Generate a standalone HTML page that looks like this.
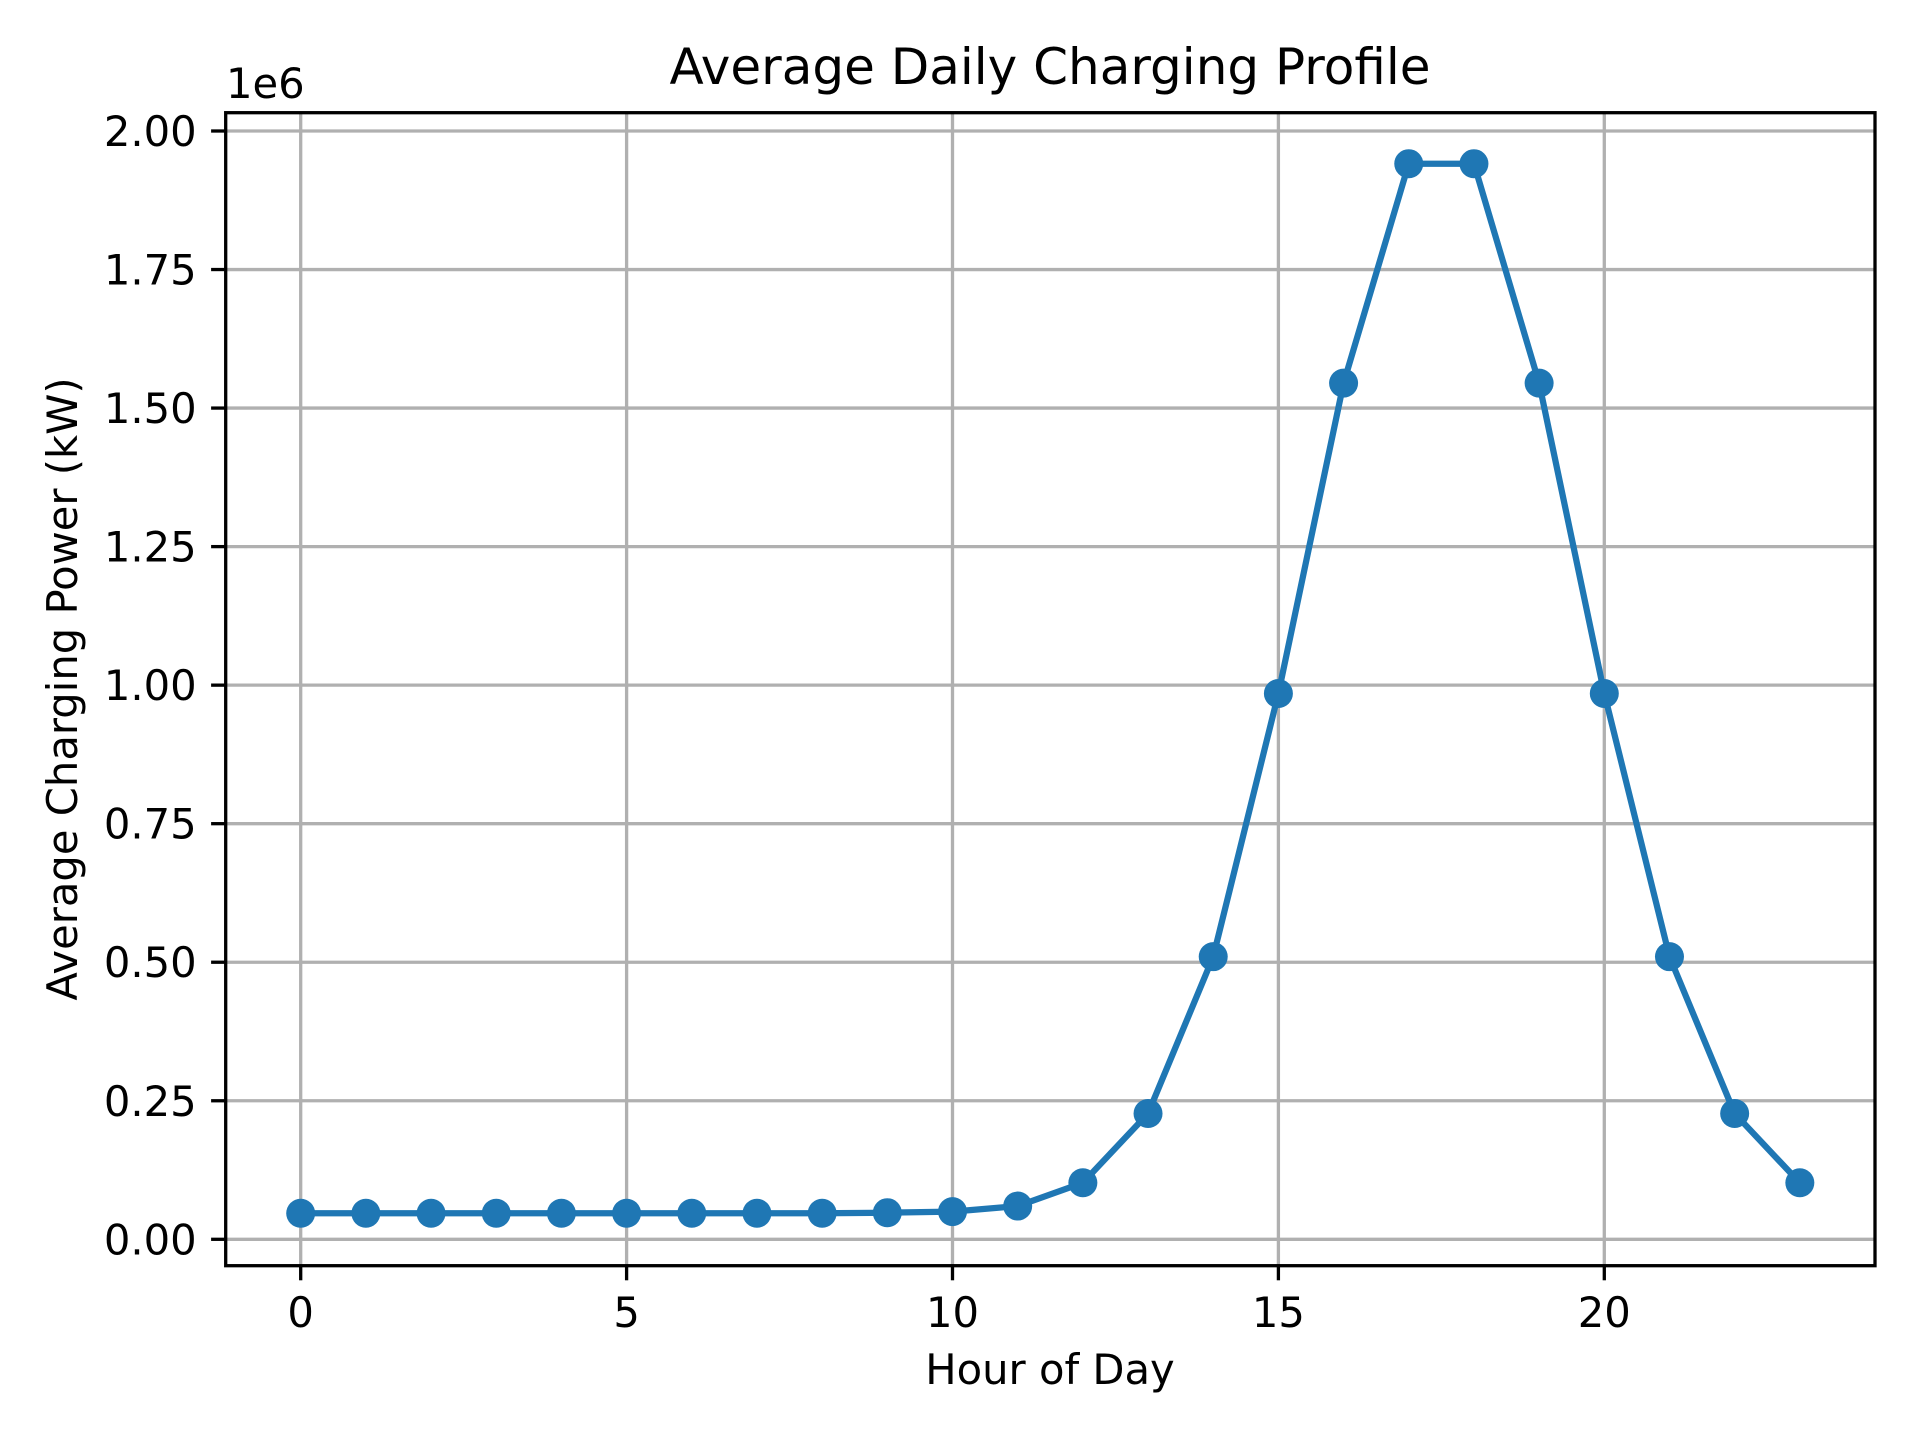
<!DOCTYPE html>
<html><head><meta charset="utf-8"><style>
html,body{margin:0;padding:0;background:#fff;width:1920px;height:1440px;overflow:hidden}
svg text{font-family:"DejaVu Sans","Liberation Sans",sans-serif;fill:#000}
</style></head><body>
<svg id="chart" width="1920" height="1440" xmlns="http://www.w3.org/2000/svg">
<rect width="1920" height="1440" fill="#fff"/>
<g id="grid"></g>
<g id="ticks"></g>
<g id="series"></g>
<rect x="225.7" y="112.7" width="1649.3" height="1153" fill="none" stroke="#000" stroke-width="3.3"/>
<text x="1050" y="84" font-size="50" text-anchor="middle">Average Daily Charging Profile</text>
<text x="226" y="98" font-size="41.7">1e6</text>
<text x="1050" y="1384" font-size="41.7" text-anchor="middle">Hour of Day</text>
<text transform="translate(77,689) rotate(-90)" font-size="41.7" text-anchor="middle">Average Charging Power (kW)</text>
</svg>
<script>
const hours=[0,1,2,3,4,5,6,7,8,9,10,11,12,13,14,15,16,17,18,19,20,21,22,23];
const power=[0.047,0.047,0.047,0.047,0.047,0.047,0.047,0.047,0.047,0.048,0.05,0.06,0.102,0.227,0.51,0.985,1.545,1.941,1.941,1.545,0.985,0.51,0.227,0.102];
const xTicks=[0,5,10,15,20];
const yTicks=[0,0.25,0.5,0.75,1.0,1.25,1.5,1.75,2.0];
const yTickLabels=["0.00","0.25","0.50","0.75","1.00","1.25","1.50","1.75","2.00"];
const NS="http://www.w3.org/2000/svg";
const xs=v=>300.7+v*65.18;
const ys=v=>1239.3-v*554.15;
const L=225.7,R=1875,T=112.7,B=1265.7;
function mk(tag,attrs,parent){const e=document.createElementNS(NS,tag);for(const k in attrs)e.setAttribute(k,attrs[k]);parent.appendChild(e);return e;}
const grid=document.getElementById('grid'),ticks=document.getElementById('ticks'),series=document.getElementById('series');
xTicks.forEach(t=>{
  const x=xs(t);
  const g=mk('line',{x1:x,x2:x,y1:T,y2:B,stroke:'#b0b0b0','stroke-width':3.3},grid);
  
  
  const tk=mk('line',{x1:x,x2:x,y1:B,y2:B+14.6,stroke:'#000','stroke-width':3.3},ticks);
  
  
  const tx=mk('text',{x:x,y:1327,'font-size':41.7,'text-anchor':'middle'},ticks);
  tx.textContent=t;
  
  
});
yTicks.forEach((t,i)=>{
  const y=ys(t);
  const g=mk('line',{x1:L,x2:R,y1:y,y2:y,stroke:'#b0b0b0','stroke-width':3.3},grid);
  
  
  const tk=mk('line',{x1:L-14.6,x2:L,y1:y,y2:y,stroke:'#000','stroke-width':3.3},ticks);
  
  
  const tx=mk('text',{x:L-29,y:y+15,'font-size':41.7,'text-anchor':'end'},ticks);
  tx.textContent=yTickLabels[i];
  
  
});
const pts=hours.map((h,i)=>xs(h)+','+ys(power[i])).join(' ');
const pl=mk('polyline',{points:pts,fill:'none',stroke:'#1f77b4','stroke-width':6.25,'stroke-linejoin':'round','stroke-linecap':'square'},series);


hours.forEach((h,i)=>{
  const c=mk('circle',{cx:xs(h),cy:ys(power[i]),r:14.5,fill:'#1f77b4'},series);
  
  
});
</script>
</body></html>
